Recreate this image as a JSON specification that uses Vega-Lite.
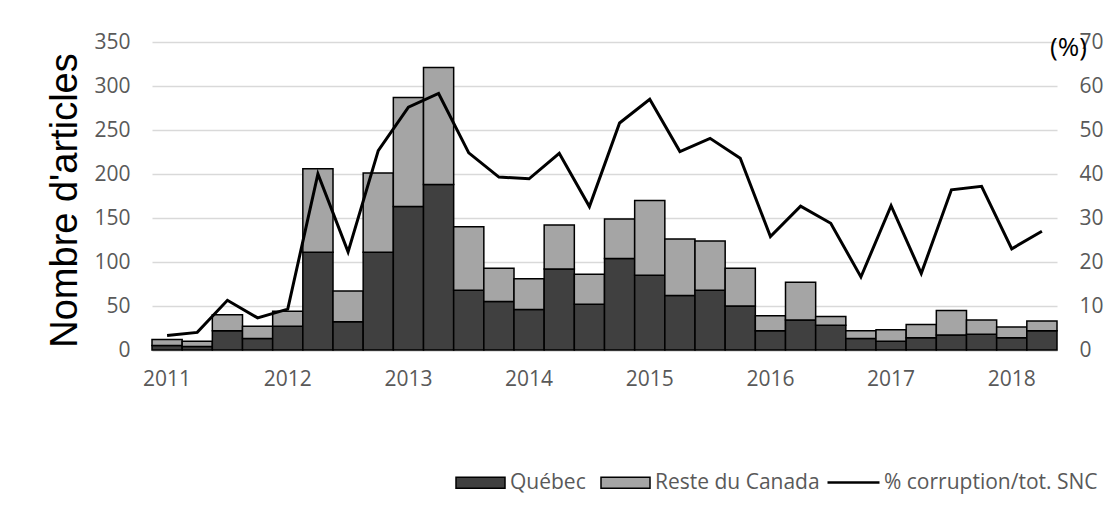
{
  "$schema": "https://vega.github.io/schema/vega-lite/v6.json",
  "autosize": "none",
  "width": 905,
  "height": 308,
  "padding": {"left": 152, "top": 42, "right": 49, "bottom": 173},
  "background": "white",
  "config": {"view": {"stroke": null}, "font": "Open Sans, sans-serif", "legend": {"padding": 0}},
  "data": {"values": [
    {"q": "2011-1", "Québec": 5, "Reste du Canada": 7, "pct": 3.3},
    {"q": "2011-2", "Québec": 4, "Reste du Canada": 6, "pct": 4.0},
    {"q": "2011-3", "Québec": 22, "Reste du Canada": 18, "pct": 11.3},
    {"q": "2011-4", "Québec": 13, "Reste du Canada": 14, "pct": 7.3},
    {"q": "2012-1", "Québec": 27, "Reste du Canada": 17, "pct": 9.3},
    {"q": "2012-2", "Québec": 111, "Reste du Canada": 95, "pct": 40.0},
    {"q": "2012-3", "Québec": 32, "Reste du Canada": 35, "pct": 22.3},
    {"q": "2012-4", "Québec": 111, "Reste du Canada": 90, "pct": 45.3},
    {"q": "2013-1", "Québec": 163, "Reste du Canada": 124, "pct": 55.2},
    {"q": "2013-2", "Québec": 188, "Reste du Canada": 133, "pct": 58.3},
    {"q": "2013-3", "Québec": 68, "Reste du Canada": 72, "pct": 44.8},
    {"q": "2013-4", "Québec": 55, "Reste du Canada": 38, "pct": 39.3},
    {"q": "2014-1", "Québec": 46, "Reste du Canada": 35, "pct": 38.9},
    {"q": "2014-2", "Québec": 92, "Reste du Canada": 50, "pct": 44.7},
    {"q": "2014-3", "Québec": 52, "Reste du Canada": 34, "pct": 32.6},
    {"q": "2014-4", "Québec": 104, "Reste du Canada": 45, "pct": 51.6},
    {"q": "2015-1", "Québec": 85, "Reste du Canada": 85, "pct": 57.0},
    {"q": "2015-2", "Québec": 62, "Reste du Canada": 64, "pct": 45.1},
    {"q": "2015-3", "Québec": 68, "Reste du Canada": 56, "pct": 48.1},
    {"q": "2015-4", "Québec": 50, "Reste du Canada": 43, "pct": 43.6},
    {"q": "2016-1", "Québec": 22, "Reste du Canada": 17, "pct": 25.8},
    {"q": "2016-2", "Québec": 34, "Reste du Canada": 43, "pct": 32.7},
    {"q": "2016-3", "Québec": 28, "Reste du Canada": 10, "pct": 28.8},
    {"q": "2016-4", "Québec": 13, "Reste du Canada": 9, "pct": 16.6},
    {"q": "2017-1", "Québec": 10, "Reste du Canada": 13, "pct": 32.8},
    {"q": "2017-2", "Québec": 14, "Reste du Canada": 15, "pct": 17.4},
    {"q": "2017-3", "Québec": 17, "Reste du Canada": 28, "pct": 36.4},
    {"q": "2017-4", "Québec": 18, "Reste du Canada": 16, "pct": 37.2},
    {"q": "2018-1", "Québec": 14, "Reste du Canada": 12, "pct": 23.0},
    {"q": "2018-2", "Québec": 22, "Reste du Canada": 11, "pct": 27.0}
  ]},
  "encoding": {
    "x": {
      "field": "q", "type": "ordinal",
      "scale": {"paddingInner": 0, "paddingOuter": 0},
      "axis": {
        "title": null, "labelAngle": 0, "ticks": false,
        "labelExpr": "split(datum.value, '-')[1] == '1' ? split(datum.value, '-')[0] : ''",
        "labelFontSize": 21, "labelColor": "#595959", "labelPadding": 18,
        "domainColor": "#d9d9d9", "domainWidth": 2.5
      }
    }
  },
  "layer": [
    {
      "transform": [{"fold": ["Québec", "Reste du Canada"], "as": ["series", "n"]}],
      "mark": {"type": "bar", "stroke": "black", "strokeWidth": 1.5},
      "encoding": {
        "y": {
          "field": "n", "type": "quantitative", "stack": "zero",
          "scale": {"domain": [0, 350], "nice": false},
          "axis": {
            "values": [0, 50, 100, 150, 200, 250, 300, 350],
            "title": "Nombre d'articles", "titleFont": "Liberation Sans", "titleFontSize": 38,
            "titleFontWeight": "normal", "titleColor": "black",
            "titleX": -76, "titleY": 158, "titleAngle": -90, "titleAlign": "center", "titleBaseline": "alphabetic",
            "labelFontSize": 21, "labelColor": "#595959", "labelPadding": 22,
            "ticks": false, "domain": false, "gridColor": "#d9d9d9", "gridWidth": 1.5
          }
        },
        "order": {"field": "series", "sort": "ascending"},
        "color": {
          "field": "series", "type": "nominal",
          "scale": {"domain": ["Québec", "Reste du Canada"], "range": ["#404040", "#A5A5A5"]},
          "legend": {
            "title": null, "orient": "none", "direction": "horizontal",
            "legendX": 303, "legendY": 415,
            "labelFontSize": 21, "labelColor": "#595959", "labelOffset": 4, "labelLimit": 400,
            "symbolSize": 2401, "symbolType": "M-1,-0.225H1V0.225H-1Z",
            "symbolStrokeColor": "black", "symbolStrokeWidth": 1.5, "symbolOpacity": 1,
            "columnPadding": 12
          }
        }
      }
    },
    {
      "mark": {"type": "line", "strokeWidth": 3},
      "encoding": {
        "y": {
          "field": "pct", "type": "quantitative",
          "scale": {"domain": [0, 70], "nice": false},
          "axis": {
            "orient": "right", "values": [0, 10, 20, 30, 40, 50, 60, 70],
            "title": "(%)", "titleAngle": 0, "titleX": 11, "titleY": 5,
            "titleAlign": "center", "titleBaseline": "middle",
            "titleFontSize": 26, "titleFontWeight": "normal", "titleColor": "black",
            "labelFontSize": 21, "labelColor": "#595959", "labelPadding": 22,
            "ticks": false, "domain": false, "grid": false
          }
        },
        "stroke": {
          "datum": "% corruption/tot. SNC",
          "scale": {"range": ["#000000"]},
          "legend": {
            "title": null, "orient": "none", "direction": "horizontal",
            "legendX": 674, "legendY": 413,
            "labelFontSize": 21, "labelColor": "#595959", "labelOffset": 3, "labelLimit": 400,
            "symbolType": "stroke", "symbolSize": 2704, "symbolStrokeWidth": 2.5
          }
        }
      }
    }
  ],
  "resolve": {"scale": {"y": "independent"}}
}
